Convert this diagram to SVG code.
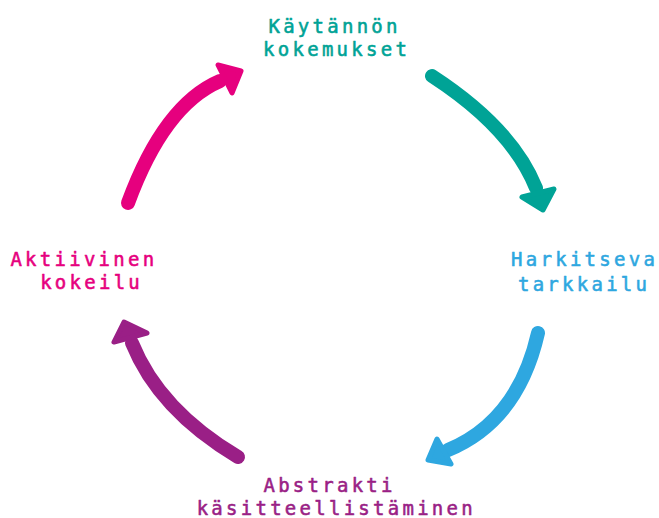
<svg xmlns="http://www.w3.org/2000/svg" width="659" height="518" viewBox="0 0 659 518">
<style>
text{font-family:"DejaVu Sans Mono","Liberation Mono",monospace;font-size:19px;letter-spacing:3.26px;text-anchor:middle;stroke-width:0.55px;stroke-linejoin:round}
.shaft{fill:none;stroke-width:14;stroke-linecap:round}
.head{stroke-width:5;stroke-linejoin:round}
.teal{fill:#00a396;stroke:#00a396}
.blue{fill:#2ea7e0;stroke:#2ea7e0}
.purple{fill:#9a1f86;stroke:#9a1f86}
.pink{fill:#e6007e;stroke:#e6007e}
</style>
<rect width="659" height="518" fill="#ffffff"/>
<g id="connectors">
  <path class="shaft teal" style="fill:none" d="M432,76 Q512,128 536,188"/>
  <polygon class="head teal" points="522,197 554,189 543,210"/>
  <path class="shaft blue" style="fill:none" d="M538,333 Q518,421 448,450"/>
  <polygon class="head blue" points="437,439 451,464 428,460"/>
  <path class="shaft purple" style="fill:none" d="M238,457 Q159,410 132,343"/>
  <polygon class="head purple" points="114,342 147,333 124,322"/>
  <path class="shaft pink" style="fill:none" d="M128,203 Q164,105 220,81"/>
  <polygon class="head pink" points="218,65 232,93 241,71"/>
</g>
<g id="node-kaytannon">
  <text class="teal" x="334.6" y="33">Käytännön</text>
  <text class="teal" x="336.6" y="56">kokemukset</text>
</g>
<g id="node-harkitseva">
  <text class="blue" x="584.6" y="266">Harkitseva</text>
  <text class="blue" x="584.1" y="290.5">tarkkailu</text>
</g>
<g id="node-abstrakti">
  <text class="purple" x="329.6" y="492">Abstrakti</text>
  <text class="purple" x="336.3" y="514.5">käsitteellistäminen</text>
</g>
<g id="node-aktiivinen">
  <text class="pink" x="83.9" y="266">Aktiivinen</text>
  <text class="pink" x="91.6" y="288.5">kokeilu</text>
</g>
</svg>
